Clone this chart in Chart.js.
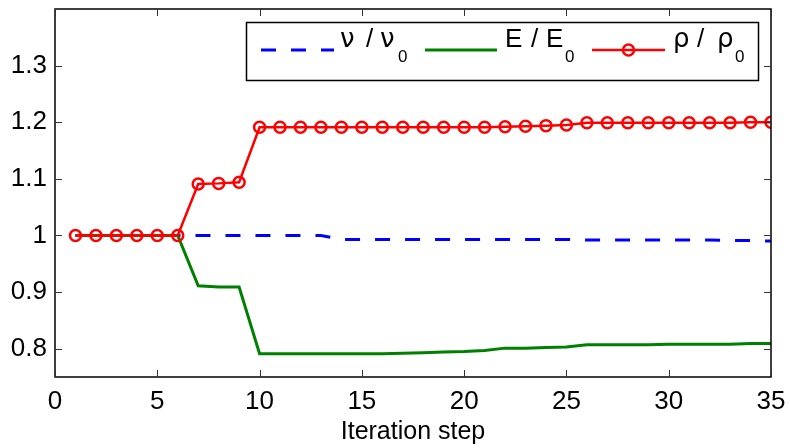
<!DOCTYPE html>
<html>
<head>
<meta charset="utf-8">
<script src="https://cdn.jsdelivr.net/npm/chart.js@4.4.1/dist/chart.umd.min.js"></script>
<style>
  html, body { margin: 0; padding: 0; background: #fff; }
  canvas { display: block; }
</style>
</head>
<body>
<canvas id="iterChart" width="790" height="448"></canvas>
<script>
// iteration steps
const steps = [1, 2, 3, 4, 5, 6, 7, 8, 9, 10, 11, 12, 13, 14, 15, 16, 17, 18,
  19, 20, 21, 22, 23, 24, 25, 26, 27, 28, 29, 30, 31, 32, 33, 34, 35];

// nu / nu0
const nuRatio = [1, 1, 1, 1, 1, 1, 1, 1, 1, 1, 1, 1, 1, 0.993, 0.993, 0.993,
  0.993, 0.993, 0.993, 0.993, 0.993, 0.993, 0.993, 0.993, 0.993, 0.992, 0.992,
  0.992, 0.992, 0.992, 0.992, 0.992, 0.991, 0.991, 0.990];

// E / E0
const eRatio = [1, 1, 1, 1, 1, 1, 0.911, 0.909, 0.909, 0.791, 0.791, 0.791,
  0.791, 0.791, 0.791, 0.791, 0.792, 0.793, 0.794, 0.795, 0.797, 0.801, 0.801,
  0.802, 0.803, 0.807, 0.807, 0.807, 0.807, 0.808, 0.808, 0.808, 0.808, 0.809,
  0.809];

// rho / rho0
const rhoRatio = [1, 1, 1, 1, 1, 1, 1.091, 1.092, 1.094, 1.191, 1.191, 1.191,
  1.191, 1.191, 1.191, 1.191, 1.191, 1.191, 1.191, 1.191, 1.191, 1.192, 1.193,
  1.194, 1.195, 1.199, 1.199, 1.199, 1.199, 1.199, 1.199, 1.199, 1.199, 1.2,
  1.2];

const xTicks = [0, 5, 10, 15, 20, 25, 30, 35];
const yTicks = [0.8, 0.9, 1, 1.1, 1.2, 1.3];

const FONT = "'Liberation Sans', Arial, Helvetica, sans-serif";
const GREEK = "'DejaVu Sans', sans-serif";

function toPoints(values) {
  return steps.map((s, i) => ({ x: s, y: values[i] }));
}

function noPad(s) {
  s.paddingTop = 0;
  s.paddingBottom = 0;
  s.paddingLeft = 0;
  s.paddingRight = 0;
}

// matlab-like box with inward ticks + legend with subscripts
const matlabFrame = {
  id: "matlabFrame",
  afterDraw(chart) {
    const ctx = chart.ctx;
    const area = chart.chartArea;
    const xs = chart.scales.x;
    const ys = chart.scales.y;
    const tl = 7;
    ctx.save();
    ctx.strokeStyle = "#000";
    ctx.lineWidth = 1.5;
    ctx.strokeRect(area.left, area.top, area.right - area.left, area.bottom - area.top);

    ctx.lineWidth = 1;
    ctx.strokeStyle = "#333";
    ctx.beginPath();
    xTicks.forEach(v => {
      const px = Math.round(xs.getPixelForValue(v)) + 0.5;
      ctx.moveTo(px, area.bottom); ctx.lineTo(px, area.bottom - tl);
      ctx.moveTo(px, area.top); ctx.lineTo(px, area.top + tl);
    });
    yTicks.forEach(v => {
      const py = Math.round(ys.getPixelForValue(v)) + 0.5;
      ctx.moveTo(area.left, py); ctx.lineTo(area.left + tl, py);
      ctx.moveTo(area.right, py); ctx.lineTo(area.right - tl, py);
    });
    ctx.stroke();

    // legend
    ctx.fillStyle = "#fff";
    ctx.fillRect(246, 22, 512, 58);
    ctx.strokeStyle = "#000";
    ctx.lineWidth = 1.5;
    ctx.strokeRect(246.5, 22.5, 512, 58);

    const ly = 50;
    ctx.lineWidth = 3;
    ctx.strokeStyle = "#0000ff";
    ctx.setLineDash([15, 15]);
    ctx.beginPath(); ctx.moveTo(261, ly); ctx.lineTo(334, ly); ctx.stroke();
    ctx.setLineDash([]);

    ctx.strokeStyle = "#008000";
    ctx.beginPath(); ctx.moveTo(425, ly); ctx.lineTo(497, ly); ctx.stroke();

    ctx.strokeStyle = "#ff0000";
    ctx.lineWidth = 2.5;
    ctx.beginPath(); ctx.moveTo(592, ly); ctx.lineTo(665, ly); ctx.stroke();
    ctx.beginPath(); ctx.arc(628.5, ly, 5.5, 0, Math.PI * 2); ctx.stroke();

    ctx.fillStyle = "#000";
    ctx.textBaseline = "alphabetic";
    ctx.textAlign = "left";
    const pieces = [
      ["\u03bd", 340, GREEK], ["/", 366, FONT], ["\u03bd", 380, GREEK],
      ["E", 505, FONT], ["/", 531, FONT], ["E", 546, FONT],
      ["\u03c1", 673, GREEK], ["/", 697, FONT], ["\u03c1", 717, GREEK]
    ];
    pieces.forEach(p => {
      ctx.font = "26px " + p[2];
      ctx.fillText(p[0], p[1], 47);
    });
    ctx.font = "17px " + FONT;
    [398, 565, 735].forEach(x => ctx.fillText("0", x, 62));
    ctx.restore();
  }
};

const ctx = document.getElementById("iterChart").getContext("2d");
new Chart(ctx, {
  type: "line",
  data: {
    datasets: [
      {
        label: "nu / nu0",
        data: toPoints(nuRatio),
        borderColor: "#0000ff",
        borderWidth: 3,
        borderDash: [15, 15],
        pointRadius: 0,
        fill: false,
        order: 3
      },
      {
        label: "E / E0",
        data: toPoints(eRatio),
        borderColor: "#008000",
        borderWidth: 3,
        pointRadius: 0,
        fill: false,
        order: 2
      },
      {
        label: "rho / rho0",
        data: toPoints(rhoRatio),
        borderColor: "#ff0000",
        backgroundColor: "rgba(0,0,0,0)",
        borderWidth: 2.5,
        pointRadius: 5.5,
        pointBorderWidth: 2.5,
        pointBorderColor: "#ff0000",
        pointBackgroundColor: "rgba(0,0,0,0)",
        fill: false,
        order: 1
      }
    ]
  },
  options: {
    responsive: false,
    animation: false,
    events: [],
    layout: { padding: { top: 9, right: 19, left: 0, bottom: 0 } },
    plugins: {
      legend: { display: false },
      tooltip: { enabled: false }
    },
    elements: { line: { tension: 0 } },
    scales: {
      x: {
        type: "linear",
        min: 0,
        max: 35,
        afterBuildTicks: s => { s.ticks = xTicks.map(v => ({ value: v })); },
        afterFit: s => { s.height = 71; noPad(s); },
        grid: { display: false, drawTicks: false },
        border: { display: false },
        ticks: {
          padding: 9,
          color: "#000",
          font: { family: FONT, size: 26 },
          maxRotation: 0
        },
        title: {
          display: true,
          text: "Iteration step",
          color: "#000",
          font: { family: FONT, size: 25 },
          padding: { top: 0, bottom: 1 }
        }
      },
      y: {
        min: 0.75,
        max: 1.4,
        afterBuildTicks: s => { s.ticks = yTicks.map(v => ({ value: v })); },
        afterFit: s => { s.width = 55; noPad(s); },
        grid: { display: false, drawTicks: false },
        border: { display: false },
        ticks: {
          padding: 8,
          color: "#000",
          font: { family: FONT, size: 26 },
          callback: v => String(Math.round(v * 10) / 10)
        }
      }
    }
  },
  plugins: [matlabFrame]
});
</script>
</body>
</html>
